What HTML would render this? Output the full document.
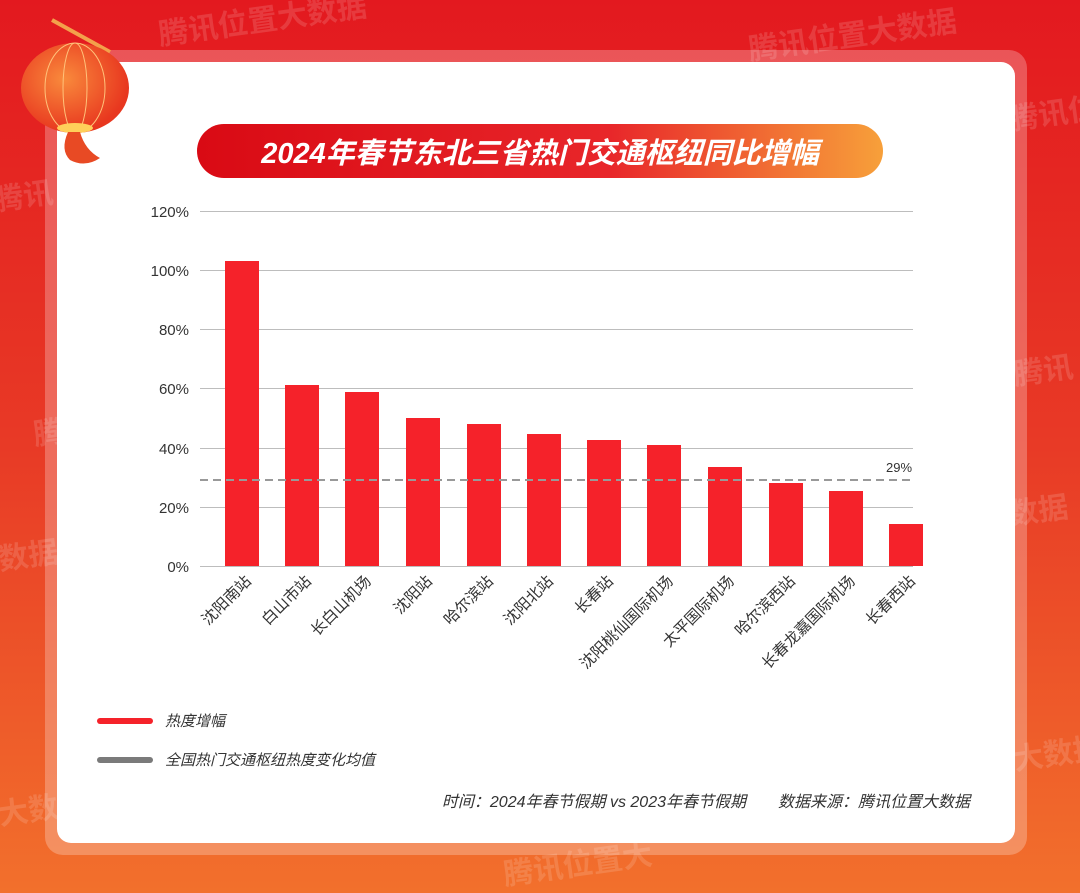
<!DOCTYPE html>
<html><head><meta charset="utf-8"><style>
html,body{margin:0;padding:0;width:1080px;height:893px;overflow:hidden}
body{background:linear-gradient(180deg,#e3191f 0%,#e83a26 50%,#f2702c 100%);font-family:"Liberation Sans","Noto Sans CJK SC",sans-serif}
</style></head><body>
<svg width="1080" height="893" viewBox="0 0 1080 893" xmlns="http://www.w3.org/2000/svg" style="position:absolute;left:0;top:0;font-family:'Liberation Sans','Noto Sans CJK SC',sans-serif">
<defs>
<linearGradient id="tg" x1="0" x2="1" y1="0" y2="0"><stop offset="0" stop-color="#d90a14"/><stop offset="0.6" stop-color="#e8262a"/><stop offset="1" stop-color="#f7a03a"/></linearGradient>
<radialGradient id="lg" cx="0.4" cy="0.4" r="0.6"><stop offset="0" stop-color="#f98a3c"/><stop offset="1" stop-color="#e8371f"/></radialGradient>
</defs>
<g fill="#ffffff" fill-opacity="0.14" font-size="30" font-weight="bold">
<text x="160" y="45" transform="rotate(-8 160 45)">腾讯位置大数据</text>
<text x="750" y="60" transform="rotate(-8 750 60)">腾讯位置大数据</text>
<text x="1010" y="130" transform="rotate(-8 1010 130)">腾讯位置</text>
<text x="-5" y="210" transform="rotate(-8 0 210)">腾讯</text>
<text x="1015" y="385" transform="rotate(-8 1015 385)">腾讯</text>
<text x="35" y="445" transform="rotate(-8 35 445)">腾</text>
<text x="0" y="570" transform="rotate(-8 0 570)">数据</text>
<text x="1010" y="525" transform="rotate(-8 1010 525)">数据</text>
<text x="1015" y="770" transform="rotate(-8 1015 770)">大数据</text>
<text x="0" y="825" transform="rotate(-8 0 825)">大数</text>
<text x="505" y="885" transform="rotate(-8 505 885)">腾讯位置大</text>
</g>
<rect x="45" y="50" width="982" height="805" rx="18" fill="#ffffff" fill-opacity="0.25"/>
<rect x="57" y="62" width="958" height="781" rx="14" fill="#ffffff"/>
<line x1="52" y1="20" x2="110" y2="52" stroke="#f3a14b" stroke-width="4"/>
<ellipse cx="75" cy="88" rx="54" ry="45" fill="url(#lg)"/>
<ellipse cx="75" cy="88" rx="30" ry="45" fill="none" stroke="#ffc27a" stroke-width="1"/>
<ellipse cx="75" cy="88" rx="12" ry="45" fill="none" stroke="#ffc27a" stroke-width="1"/>
<ellipse cx="75" cy="128" rx="18" ry="5" fill="#ffcf5a"/>
<path d="M68 132 Q60 150 70 160 Q85 168 100 158 Q85 150 80 132 Z" fill="#e84a24"/>
<rect x="197" y="124" width="686" height="54" rx="27" fill="url(#tg)"/>
<text x="540" y="163" text-anchor="middle" fill="#fff" font-size="29" font-weight="bold" font-style="italic">2024年春节东北三省热门交通枢纽同比增幅</text>
<g stroke="#bdbdbd" stroke-width="1">
<line x1="200" y1="211.5" x2="913" y2="211.5"/><line x1="200" y1="270.5" x2="913" y2="270.5"/><line x1="200" y1="329.5" x2="913" y2="329.5"/><line x1="200" y1="388.5" x2="913" y2="388.5"/><line x1="200" y1="448.5" x2="913" y2="448.5"/><line x1="200" y1="507.5" x2="913" y2="507.5"/><line x1="200" y1="566.5" x2="913" y2="566.5"/>
</g>
<g font-size="15" fill="#333" text-anchor="end">
<text x="189" y="217">120%</text><text x="189" y="276">100%</text><text x="189" y="335">80%</text><text x="189" y="394">60%</text><text x="189" y="454">40%</text><text x="189" y="513">20%</text><text x="189" y="572">0%</text>
</g>
<g fill="#f5222a">
<rect x="225" y="261" width="34" height="305"/>
<rect x="285" y="385" width="34" height="181"/>
<rect x="345" y="392" width="34" height="174"/>
<rect x="406" y="418" width="34" height="148"/>
<rect x="467" y="424" width="34" height="142"/>
<rect x="527" y="434" width="34" height="132"/>
<rect x="587" y="440" width="34" height="126"/>
<rect x="647" y="445" width="34" height="121"/>
<rect x="708" y="467" width="34" height="99"/>
<rect x="769" y="483" width="34" height="83"/>
<rect x="829" y="491" width="34" height="75"/>
<rect x="889" y="524" width="34" height="42"/>
</g>
<line x1="200" y1="480" x2="913" y2="480" stroke="#999" stroke-width="2" stroke-dasharray="8,5"/>
<text x="886" y="472" font-size="13" fill="#333">29%</text>
<g font-size="15.5" fill="#333" text-anchor="end">
<text transform="translate(252 582) rotate(-45)">沈阳南站</text>
<text transform="translate(312 582) rotate(-45)">白山市站</text>
<text transform="translate(372 582) rotate(-45)">长白山机场</text>
<text transform="translate(433 582) rotate(-45)">沈阳站</text>
<text transform="translate(494 582) rotate(-45)">哈尔滨站</text>
<text transform="translate(554 582) rotate(-45)">沈阳北站</text>
<text transform="translate(614 582) rotate(-45)">长春站</text>
<text transform="translate(674 582) rotate(-45)">沈阳桃仙国际机场</text>
<text transform="translate(735 582) rotate(-45)">太平国际机场</text>
<text transform="translate(796 582) rotate(-45)">哈尔滨西站</text>
<text transform="translate(856 582) rotate(-45)">长春龙嘉国际机场</text>
<text transform="translate(916 582) rotate(-45)">长春西站</text>
</g>
<line x1="100" y1="721" x2="150" y2="721" stroke="#f5222a" stroke-width="6" stroke-linecap="round"/>
<text x="165" y="726" font-size="15" fill="#333" font-style="italic">热度增幅</text>
<line x1="100" y1="760" x2="150" y2="760" stroke="#7a7a7a" stroke-width="6" stroke-linecap="round"/>
<text x="165" y="765" font-size="15" fill="#333" font-style="italic">全国热门交通枢纽热度变化均值</text>
<text x="970" y="807" text-anchor="end" font-size="16" fill="#333" font-style="italic">时间：2024年春节假期 vs 2023年春节假期　　数据来源：腾讯位置大数据</text>
</svg>
</body></html>
